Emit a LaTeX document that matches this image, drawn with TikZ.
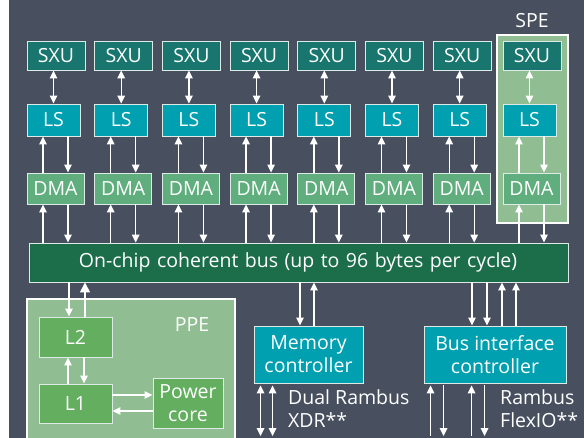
\documentclass[tikz,border=0pt]{standalone}
\usepackage{fontspec}
\setmainfont{Open Sans}
\usetikzlibrary{arrows.meta}
\definecolor{CBSlate}{HTML}{485060}
\definecolor{CBTeal}{HTML}{18766E}
\definecolor{CBCyan}{HTML}{00A0B0}
\definecolor{CBMint}{HTML}{60AE7E}
\definecolor{CBSage}{HTML}{90BE92}
\definecolor{CBBus}{HTML}{1C6E4B}
\definecolor{CBLeaf}{HTML}{64AE60}
\definecolor{CBEdge}{HTML}{DDEBE6}

\begin{document}
\begin{tikzpicture}[
    x=1pt, y=-1pt,
    unit/.style={
      draw=CBEdge,
      line width=0.9pt,
      inner sep=0pt,
      text=white,
      align=center,
      font=\fontsize{19.5}{23}\selectfont
    },
    sxu/.style={unit, fill=CBTeal, minimum width=58pt, minimum height=29pt},
    ls/.style={unit, fill=CBCyan, minimum width=53pt, minimum height=32pt},
    dma/.style={unit, fill=CBMint, minimum width=57pt, minimum height=31pt},
    cache/.style={unit, fill=CBLeaf},
    ctrl/.style={unit, fill=CBCyan, minimum height=57pt},
    group/.style={
      draw=white,
      line width=2pt,
      fill=CBSage,
      inner sep=0pt
    },
    note/.style={
      text=white,
      inner sep=0pt,
      align=left,
      font=\fontsize{19.5}{23}\selectfont
    },
    link/.style={
      white,
      line width=1.4pt,
      -{Triangle[length=8pt,width=7.5pt]}
    },
    dlink/.style={
      white,
      line width=1.4pt,
      {Triangle[length=8pt,width=7.5pt]}-{Triangle[length=8pt,width=7.5pt]}
    }
  ]

  % background and page frame
  \fill[white] (0,0) rectangle (584,438);
  \fill[CBSlate] (9,0) rectangle (584,438);
  \useasboundingbox (0,0) rectangle (584,438);

  % SPE frame round the last column
  \node[group, minimum width=71pt, minimum height=188pt] (spe) at (532.5,129) {};
  \node[note] (spelabel) at (532,21) {SPE};

  % bus
  \node[unit, fill=CBBus, minimum width=539pt, minimum height=39pt, text width=539pt, align=left] (bus)
    at (298.5,262.5) {\hspace*{50pt}On-chip coherent bus (up to 96 bytes per cycle)};

  % eight SPE columns
  \foreach \i/\l in {1/27,2/94.7,3/162.4,4/230.1,5/297.8,6/365.5,7/433.2,8/503} {
    \node[sxu] (sxu\i) at (\l+29,55.5) {SXU};
    \node[ls] (ls\i) at (\l+26.5,120) {LS};
    \node[dma] (dma\i) at (\l+28.5,188.5) {DMA};
    \draw[dlink] (sxu\i.south -| ls\i.north) -- (ls\i.north);
    \draw[link] ([xshift=-12.5pt]dma\i.north) -- ([xshift=-12.5pt]dma\i.north |- ls\i.south);
    \draw[link] ([xshift=12.5pt]dma\i.north |- ls\i.south) -- ([xshift=12.5pt]dma\i.north);
    \draw[link] ([xshift=-12.5pt]dma\i.south |- bus.north) -- ([xshift=-12.5pt]dma\i.south);
    \draw[link] ([xshift=12.5pt]dma\i.south) -- ([xshift=12.5pt]dma\i.south |- bus.north);
  }

  % PPE
  \node[group, minimum width=208pt, minimum height=142pt] (ppe) at (131,370) {};
  \node[note] (ppelabel) at (192,325) {PPE};
  \node[cache, minimum width=73pt, minimum height=40pt] (l2) at (75.5,337) {L2};
  \node[cache, minimum width=73pt, minimum height=39pt] (l1) at (75.5,403.5) {L1};
  \node[cache, minimum width=70pt, minimum height=50pt] (core) at (188,403) {Power\\core};

  \draw[link] ([xshift=-6.5pt]l2.north |- bus.south) -- ([xshift=-6.5pt]l2.north);
  \draw[white, line width=1.4pt, -{Triangle[length=10pt,width=10pt]}]
    ([xshift=9.5pt]l2.north) -- ([xshift=9.5pt]l2.north |- bus.south);
  \draw[link] ([xshift=-7.5pt]l1.north) -- ([xshift=-7.5pt]l1.north |- l2.south);
  \draw[link] ([xshift=8.5pt]l2.south) -- ([xshift=8.5pt]l2.south |- l1.north);
  \draw[link] ([yshift=8.5pt]l1.east) -- ([yshift=8.5pt]l1.east -| core.west);
  \draw[link] ([yshift=-7.5pt]l1.east -| core.west) -- ([yshift=-7.5pt]l1.east);

  % controllers
  \coordinate (edge) at (0,436);
  \node[ctrl, minimum width=109pt] (mem) at (308.5,354.5) {Memory\\controller};
  \node[ctrl, minimum width=142pt] (bic) at (495,354.5) {Bus interface\\controller};

  \draw[link] ([xshift=-8.5pt]mem.north |- bus.south) -- ([xshift=-8.5pt]mem.north);
  \draw[link] ([xshift=5.5pt]mem.north) -- ([xshift=5.5pt]mem.north |- bus.south);
  \draw[dlink] ([xshift=7pt,yshift=-2pt]mem.south west) -- ([xshift=7pt]mem.south west |- edge);
  \draw[dlink] ([xshift=19pt,yshift=-2pt]mem.south west) -- ([xshift=19pt]mem.south west |- edge);
  \node[note, anchor=west] (xdr) at (288,409) {Dual Rambus\\XDR**};

  \draw[link] ([xshift=-23pt]bic.north |- bus.south) -- ([xshift=-23pt]bic.north);
  \draw[link] ([xshift=-8pt]bic.north |- bus.south) -- ([xshift=-8pt]bic.north);
  \draw[link] ([xshift=7pt]bic.north) -- ([xshift=7pt]bic.north |- bus.south);
  \draw[link] ([xshift=21pt]bic.north) -- ([xshift=21pt]bic.north |- bus.south);
  \draw[link] ([xshift=7pt]bic.south west |- edge) -- ([xshift=7pt,yshift=-2pt]bic.south west);
  \draw[link] ([xshift=20pt,yshift=-2pt]bic.south west) -- ([xshift=20pt]bic.south west |- edge);
  \draw[link] ([xshift=48pt]bic.south west |- edge) -- ([xshift=48pt,yshift=-2pt]bic.south west);
  \draw[link] ([xshift=61pt,yshift=-2pt]bic.south west) -- ([xshift=61pt]bic.south west |- edge);
  \node[note, anchor=west] (flexio) at (500,409) {Rambus\\FlexIO**};

\end{tikzpicture}
\end{document}
